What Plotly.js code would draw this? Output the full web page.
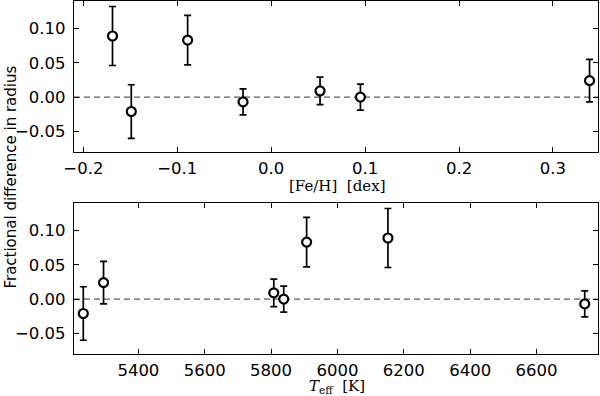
<!DOCTYPE html>
<html>
<head>
<meta charset="utf-8">
<script src="https://cdn.plot.ly/plotly-3.0.1.min.js"></script>
<style>
  html, body { margin: 0; padding: 0; background: #fff; }
  #chart { width: 600px; height: 396px; }
</style>
</head>
<body>
<div id="chart"></div>
<script>
// one entry per star, same order in every array
const feh = [-0.169, -0.149, -0.089, -0.030, 0.052, 0.095, 0.339];
const teff = [6152, 5234, 5907, 6745, 5808, 5838, 5295];
const radiusDiff = [0.089, -0.021, 0.083, -0.007, 0.009, 0.000, 0.024];
const radiusErr = [0.043, 0.039, 0.036, 0.019, 0.020, 0.019, 0.031];

const yTicks = [-0.05, 0, 0.05, 0.10];
const fehTicks = [-0.2, -0.1, 0.0, 0.1, 0.2, 0.3];
const teffTicks = [5400, 5600, 5800, 6000, 6200, 6400, 6600];

const tickFont = { family: "DejaVu Sans", size: 16.5, color: "#000" };

function pointTrace(x, xa, ya) {
  return {
    type: "scatter",
    mode: "markers",
    x: x,
    y: radiusDiff,
    xaxis: xa,
    yaxis: ya,
    marker: { symbol: "circle", size: 9, color: "#fff", line: { color: "#000", width: 2.2 } },
    error_y: { type: "data", array: radiusErr, visible: true, color: "#000", thickness: 1.7, width: 3.5 },
    hoverinfo: "x+y",
    showlegend: false
  };
}

function frameAxis(extra) {
  return Object.assign({
    showline: true,
    linecolor: "#000",
    linewidth: 1.2,
    mirror: "ticks",
    ticks: "inside",
    ticklen: 5,
    tickwidth: 1,
    tickcolor: "#000",
    ticklabelstandoff: 1,
    showgrid: false,
    zeroline: false,
    tickfont: tickFont
  }, extra);
}

function zeroLine(xref, yref) {
  return {
    type: "line",
    xref: xref + " domain",
    yref: yref,
    x0: 0, x1: 1, y0: 0, y1: 0,
    line: { color: "#333", width: 1, dash: "6px,4px" },
    layer: "below"
  };
}

const layout = {
  width: 600,
  height: 396,
  paper_bgcolor: "#fff",
  plot_bgcolor: "#fff",
  margin: { l: 74, r: 2, t: 1, b: 42 },
  xaxis: frameAxis({ range: [-0.21, 0.348], tickvals: fehTicks, tickformat: ".1f", anchor: "y" }),
  yaxis: frameAxis({ range: [-0.08, 0.14], tickvals: yTicks, tickformat: ".2f", domain: [0.5722, 1], anchor: "x", ticklabelstandoff: 4 }),
  xaxis2: frameAxis({ range: [5206, 6785], tickvals: teffTicks, tickformat: "d", anchor: "y2" }),
  yaxis2: frameAxis({ range: [-0.08, 0.14], tickvals: yTicks, tickformat: ".2f", domain: [0, 0.4278], anchor: "x2", ticklabelstandoff: 4 }),
  shapes: [zeroLine("x", "y"), zeroLine("x2", "y2")],
  annotations: [
    {
      text: "Fractional difference in radius",
      xref: "paper", yref: "paper",
      x: -0.122, y: 0.5, xanchor: "center", yanchor: "middle",
      textangle: -90, showarrow: false,
      font: { family: "DejaVu Sans", size: 15, color: "#000" }
    },
    {
      text: "[Fe/H]  [dex]",
      xref: "paper", yref: "paper",
      x: 0.501, y: 0.5722, yshift: -34, xanchor: "center", yanchor: "middle",
      showarrow: false,
      font: { family: "DejaVu Serif", size: 15, color: "#000" }
    },
    {
      text: "<i>T</i><sub>eff</sub>  [K]",
      xref: "paper", yref: "paper",
      x: 0.501, y: 0, yshift: -32, xanchor: "center", yanchor: "middle",
      showarrow: false,
      font: { family: "DejaVu Serif", size: 15, color: "#000000" }
    }
  ]
};

Plotly.newPlot("chart", [pointTrace(feh, "x", "y"), pointTrace(teff, "x2", "y2")], layout, {
  displayModeBar: false,
  staticPlot: true
});
</script>
</body>
</html>
